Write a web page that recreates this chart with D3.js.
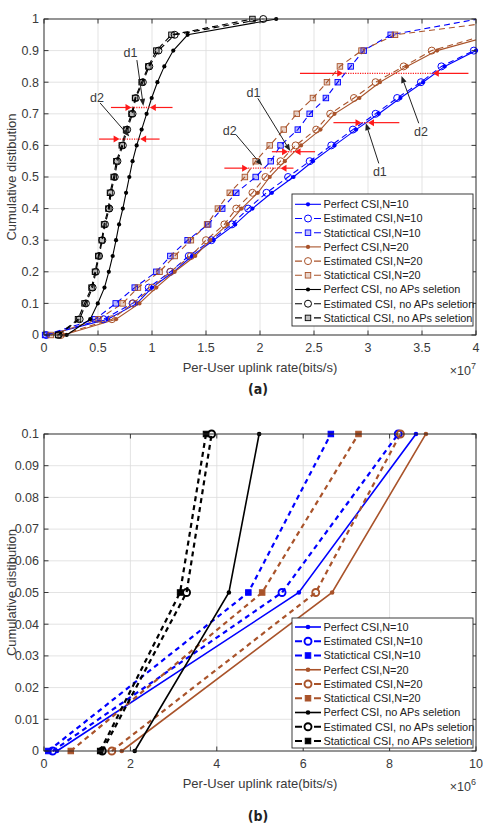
<!DOCTYPE html>
<html><head><meta charset="utf-8">
<script src="https://cdn.jsdelivr.net/npm/d3@7"></script>
<style>body{margin:0;background:#fff}svg{display:block}text{font-family:"Liberation Sans",Arial,sans-serif}</style>
</head><body><svg id="c" width="483" height="829"></svg>
<script>
// CDF levels
const levels = [0,0.05,0.1,0.15,0.2,0.25,0.3,0.35,0.4,0.45,0.5,0.55,0.6,0.65,0.7,0.75,0.8,0.85,0.9,0.95,1];
// per-user uplink rate, in units of 10^6 bits/s
const perfectN10   = [0.3,5.9,8.61,10.0,12.0,13.7,15.7,17.7,19.3,21.1,23.1,24.9,26.9,28.9,31.0,33.0,35.1,37.1,40.0,43.5,50.0];
const estimatedN10 = [0.2,5.51,8.2,9.7,11.7,13.4,15.5,17.4,18.9,20.6,22.6,24.6,26.6,28.6,30.7,32.7,34.9,36.8,39.8,43.0,49.0];
const statisticalN10 = [0.1,4.73,6.64,8.4,10.4,11.7,13.3,15.2,16.5,17.8,19.6,21.0,21.9,23.5,24.6,26.1,27.2,28.4,29.6,32.1,40.2];
const perfectN20   = [1.8,6.67,8.84,10.4,12.1,14.0,15.4,17.0,18.3,19.8,20.9,22.3,23.8,25.6,26.9,29.2,31.1,33.6,36.4,41.7,48.0];
const estimatedN20 = [1.57,6.29,8.25,10.0,11.7,13.6,15.0,16.7,17.8,19.3,20.5,21.9,23.3,25.2,26.5,28.7,30.7,33.3,35.9,41.0,47.0];
const statisticalN20 = [0.62,5.05,7.28,8.7,10.7,12.1,13.6,15.1,16.1,17.2,18.6,19.6,20.9,22.2,23.4,24.9,26.2,27.4,29.4,32.5,44.0];
const perfectNoAP  = [2.1,4.28,4.98,5.6,6.0,6.36,6.67,6.95,7.3,7.6,7.9,8.2,8.58,9.04,9.5,9.97,10.5,11.14,11.97,13.3,21.5];
const estimatedNoAP = [1.35,3.3,3.88,4.5,4.8,5.1,5.4,5.65,6.05,6.2,6.55,6.8,7.3,7.7,8.2,8.5,9.15,9.75,10.6,12.1,20.3];
const statisticalNoAP = [1.3,3.15,3.75,4.4,4.72,5.03,5.34,5.56,5.96,6.11,6.45,6.7,7.2,7.6,8.1,8.43,9.04,9.66,10.4,11.8,19.3];

const seriesNames = ["Perfect CSI,N=10","Estimated CSI,N=10","Statictical CSI,N=10",
  "Perfect CSI,N=20","Estimated CSI,N=20","Statictical CSI,N=20",
  "Perfect CSI, no APs seletion","Estimated CSI, no APs seletion","Statictical CSI, no APs seletion"];
const seriesValues = [perfectN10,estimatedN10,statisticalN10,perfectN20,estimatedN20,statisticalN20,perfectNoAP,estimatedNoAP,statisticalNoAP];

// panel (a) ticks
const xTicksA = [0,5,10,15,20,25,30,35,40];
const xTickLabelsA = ["0","0.5","1","1.5","2","2.5","3","3.5","4"];
const yTicksA = [0,0.1,0.2,0.3,0.4,0.5,0.6,0.7,0.8,0.9,1];
const yTickLabelsA = ["0","0.1","0.2","0.3","0.4","0.5","0.6","0.7","0.8","0.9","1"];
// panel (b) ticks
const xTicksB = [0,2,4,6,8,10];
const xTickLabelsB = ["0","2","4","6","8","10"];
const yTicksB = [0,0.01,0.02,0.03,0.04,0.05,0.06,0.07,0.08,0.09,0.1];
const yTickLabelsB = ["0","0.01","0.02","0.03","0.04","0.05","0.06","0.07","0.08","0.09","0.1"];

// annotations in panel (a) (data coords: rate ×10^6, CDF)
const gapLines = [ // [y, leftStart, leftTip, rightTip, rightEnd]
  [0.72, 6.2, 8.1, 9.8, 11.9],
  [0.62, 5.1, 7.0, 8.9, 10.7],
  [0.58, 21.1, 22.6, 23.2, 25.1],
  [0.528, 16.7, 18.9, 21.9, 23.1],
  [0.828, 23.7, 27.7, 36.0, 39.3],
  [0.672, 26.8, 29.4, 30.0, 32.9]
];
const pointerLabels = ["d1","d2","d1","d2","d2","d1"];
const pointerText = [[8.0,0.893],[4.9,0.752],[19.4,0.768],[17.2,0.647],[34.9,0.645],[31.1,0.518]];
const pointerFrom = [[8.6,0.87],[5.2,0.734],[19.8,0.749],[17.8,0.633],[34.7,0.67],[31.0,0.543]];
const pointerTo   = [[9.2,0.725],[7.9,0.628],[22.8,0.582],[20.2,0.536],[33.1,0.82],[29.8,0.67]];

const colors = ["#0000ff","#0000ff","#0000ff","#a9532a","#a9532a","#a9532a","#000000","#000000","#000000"];
const dashed = [false,true,true,false,true,true,false,true,true];
const markers = ["dot","circle","square","dot","circle","square","dot","circle","square"];

const svg = d3.select("#c");
const defs = svg.append("defs");
const ink = "#262626", txt = "#3a3a3a";

function panel(o){
  const x = d3.scaleLinear().domain(o.xd).range([o.l,o.r]);
  const y = d3.scaleLinear().domain(o.yd).range([o.b,o.t]);
  const g = svg.append("g");
  g.selectAll(".gx").data(o.xt).enter().append("line")
    .attr("x1",d=>x(d)).attr("x2",d=>x(d)).attr("y1",o.t).attr("y2",o.b)
    .attr("stroke","#dcdcdc").attr("stroke-width",0.8);
  g.selectAll(".gy").data(o.yt).enter().append("line")
    .attr("y1",d=>y(d)).attr("y2",d=>y(d)).attr("x1",o.l).attr("x2",o.r)
    .attr("stroke","#dcdcdc").attr("stroke-width",0.8);
  const cid = "clip"+o.id;
  defs.append("clipPath").attr("id",cid).append("rect")
    .attr("x",o.l).attr("y",o.t-1).attr("width",o.r-o.l).attr("height",o.b-o.t+2);
  const lg = g.append("g").attr("clip-path",`url(#${cid})`);
  const line = d3.line().x(d=>x(d[0])).y(d=>y(d[1]));
  seriesValues.forEach((vals,i)=>{
    const pts = vals.map((v,k)=>[v,levels[k]]);
    lg.append("path").attr("d",line(pts)).attr("fill","none")
      .attr("stroke",colors[i]).attr("stroke-width",dashed[i]?o.dw:o.sw)
      .attr("stroke-dasharray",dashed[i]?o.dash:null);
  });
  const mg = g.append("g");
  seriesValues.forEach((vals,i)=>{
    vals.forEach((v,k)=>{
      const p = levels[k];
      if(v>o.xd[1]+1e-9 || p>o.yd[1]+1e-9) return;
      drawMarker(mg, markers[i], x(v), y(p), colors[i], o);
    });
  });
  g.append("rect").attr("x",o.l).attr("y",o.t).attr("width",o.r-o.l).attr("height",o.b-o.t)
    .attr("fill","none").attr("stroke",ink).attr("stroke-width",0.9);
  const tl = 4.5;
  o.xt.forEach(d=>{
    g.append("line").attr("x1",x(d)).attr("x2",x(d)).attr("y1",o.b).attr("y2",o.b-tl).attr("stroke",ink).attr("stroke-width",0.9);
    g.append("line").attr("x1",x(d)).attr("x2",x(d)).attr("y1",o.t).attr("y2",o.t+tl).attr("stroke",ink).attr("stroke-width",0.9);
  });
  o.yt.forEach(d=>{
    g.append("line").attr("y1",y(d)).attr("y2",y(d)).attr("x1",o.l).attr("x2",o.l+tl).attr("stroke",ink).attr("stroke-width",0.9);
    g.append("line").attr("y1",y(d)).attr("y2",y(d)).attr("x1",o.r).attr("x2",o.r-tl).attr("stroke",ink).attr("stroke-width",0.9);
  });
  o.xt.forEach((d,i)=>{
    g.append("text").attr("x",x(d)).attr("y",o.b+17).attr("text-anchor","middle")
      .attr("font-size",12.5).attr("fill",txt).text(o.xl[i]);
  });
  o.yt.forEach((d,i)=>{
    g.append("text").attr("x",o.l-5).attr("y",y(d)).attr("dy","0.35em").attr("text-anchor","end")
      .attr("font-size",12.5).attr("fill",txt).text(o.yl[i]);
  });
  g.append("text").attr("x",(o.l+o.r)/2).attr("y",o.b+37).attr("text-anchor","middle")
    .attr("font-size",13).attr("fill",txt).text("Per-User uplink rate(bits/s)");
  g.append("text").attr("transform",`translate(16,${(o.t+o.b)/2}) rotate(-90)`).attr("text-anchor","middle")
    .attr("font-size",13).attr("fill",txt).text("Cumulative distibution");
  const ex = g.append("text").attr("x",o.r).attr("y",o.b+40).attr("text-anchor","end")
    .attr("font-size",12.5).attr("fill",txt);
  ex.append("tspan").text("\u00d710");
  ex.append("tspan").attr("font-size",9).attr("dy",-6).text(o.exp);
  g.append("text").attr("x",(o.l+o.r)/2-2).attr("y",o.cap).attr("text-anchor","middle")
    .attr("font-size",14).attr("font-weight","bold").attr("fill","#222")
    .style("font-family","'DejaVu Sans Condensed','DejaVu Sans',sans-serif").attr("font-stretch","condensed")
    .text(o.caption);
  return {x,y,g};
}

function drawMarker(g, m, cx, cy, col, o){
  if(m==="dot"){
    g.append("circle").attr("cx",cx).attr("cy",cy).attr("r",o.dotR).attr("fill",col);
  } else if(m==="circle"){
    g.append("circle").attr("cx",cx).attr("cy",cy).attr("r",o.circR).attr("fill","none")
      .attr("stroke",col).attr("stroke-width",o.circW);
  } else {
    const s = o.sq;
    g.append("rect").attr("x",cx-s/2).attr("y",cy-s/2).attr("width",s).attr("height",s)
      .attr("fill",col).attr("fill-opacity",o.sqFill).attr("stroke",col).attr("stroke-width",o.sqW);
  }
}

function legend(o, L){
  const g = svg.append("g");
  g.append("rect").attr("x",L.x).attr("y",L.y).attr("width",L.w).attr("height",L.h)
    .attr("fill","#fff").attr("stroke",ink).attr("stroke-width",0.9);
  seriesNames.forEach((n,i)=>{
    const cy = L.r0 + i*L.dy;
    const x0 = L.x+3, x1 = L.x+29, cx = (x0+x1)/2;
    g.append("line").attr("x1",x0).attr("x2",x1).attr("y1",cy).attr("y2",cy)
      .attr("stroke",colors[i]).attr("stroke-width",dashed[i]?o.dw:o.sw)
      .attr("stroke-dasharray",dashed[i]?"7,12":null);
    drawMarker(g, markers[i], cx, cy, colors[i], o);
    g.append("text").attr("x",L.x+31.5).attr("y",cy).attr("dy","0.35em")
      .attr("font-size",10.9).attr("fill","#222").text(n);
  });
}

// Panel (a)
const oA = {id:"A", l:44, r:476, t:19, b:335, xd:[0,40], yd:[0,1], xt:xTicksA, xl:xTickLabelsA,
  yt:yTicksA, yl:yTickLabelsA, exp:"7", cap:394, caption:"(a)",
  sw:1.1, dw:1.1, dash:"6,4", dotR:2.1, circR:3.5, circW:1, sq:5.5, sqFill:0.25, sqW:0.9};
const A = panel(oA);

const red = "#ff1a1a";
function tri(g, tipX, tipY, dir, len, hw, col){
  g.append("path").attr("d",`M${tipX},${tipY} L${tipX-dir*len},${tipY-hw} L${tipX-dir*len},${tipY+hw} Z`).attr("fill",col);
}
const ag = svg.append("g");
gapLines.forEach(r=>{
  const yy = A.y(r[0]);
  ag.append("line").attr("x1",A.x(r[1])).attr("x2",A.x(r[2])-3).attr("y1",yy).attr("y2",yy).attr("stroke",red).attr("stroke-width",1.2);
  ag.append("line").attr("x1",A.x(r[2])).attr("x2",A.x(r[3])).attr("y1",yy).attr("y2",yy).attr("stroke",red).attr("stroke-width",1.4).attr("stroke-dasharray","1.2,1.2");
  ag.append("line").attr("x1",A.x(r[3])+3).attr("x2",A.x(r[4])).attr("y1",yy).attr("y2",yy).attr("stroke",red).attr("stroke-width",1.2);
  tri(ag, A.x(r[2]), yy, 1, 6, 3.5, red);
  tri(ag, A.x(r[3]), yy, -1, 6, 3.5, red);
});
pointerLabels.forEach((t,i)=>{
  const fx=A.x(pointerFrom[i][0]), fy=A.y(pointerFrom[i][1]);
  const tx=A.x(pointerTo[i][0]), ty=A.y(pointerTo[i][1]);
  const ang = Math.atan2(ty-fy, tx-fx), len=7, hw=2.8;
  const bx = tx-len*Math.cos(ang), by = ty-len*Math.sin(ang);
  ag.append("line").attr("x1",fx).attr("y1",fy).attr("x2",bx).attr("y2",by).attr("stroke","#222").attr("stroke-width",1);
  const px=-Math.sin(ang), py=Math.cos(ang);
  ag.append("path").attr("d",`M${tx},${ty} L${bx+px*hw},${by+py*hw} L${bx-px*hw},${by-py*hw} Z`).attr("fill","#222");
  ag.append("text").attr("x",A.x(pointerText[i][0])).attr("y",A.y(pointerText[i][1])).attr("dy","0.35em")
    .attr("text-anchor","middle").attr("font-size",12.5).attr("fill",txt).text(t);
});
legend(oA, {x:292, y:194, w:181, h:132, r0:204.3, dy:14.2});

// Panel (b)
const oB = {id:"B", l:44, r:476, t:434, b:751, xd:[0,10], yd:[0,0.1], xt:xTicksB, xl:xTickLabelsB,
  yt:yTicksB, yl:yTickLabelsB, exp:"6", cap:821, caption:"(b)",
  sw:1.6, dw:2.2, dash:"5,4", dotR:2.3, circR:3.5, circW:1.9, sq:5.5, sqFill:1, sqW:1};
panel(oB);
legend(oB, {x:292, y:618, w:181, h:130, r0:627, dy:14.25});
</script></body></html>
